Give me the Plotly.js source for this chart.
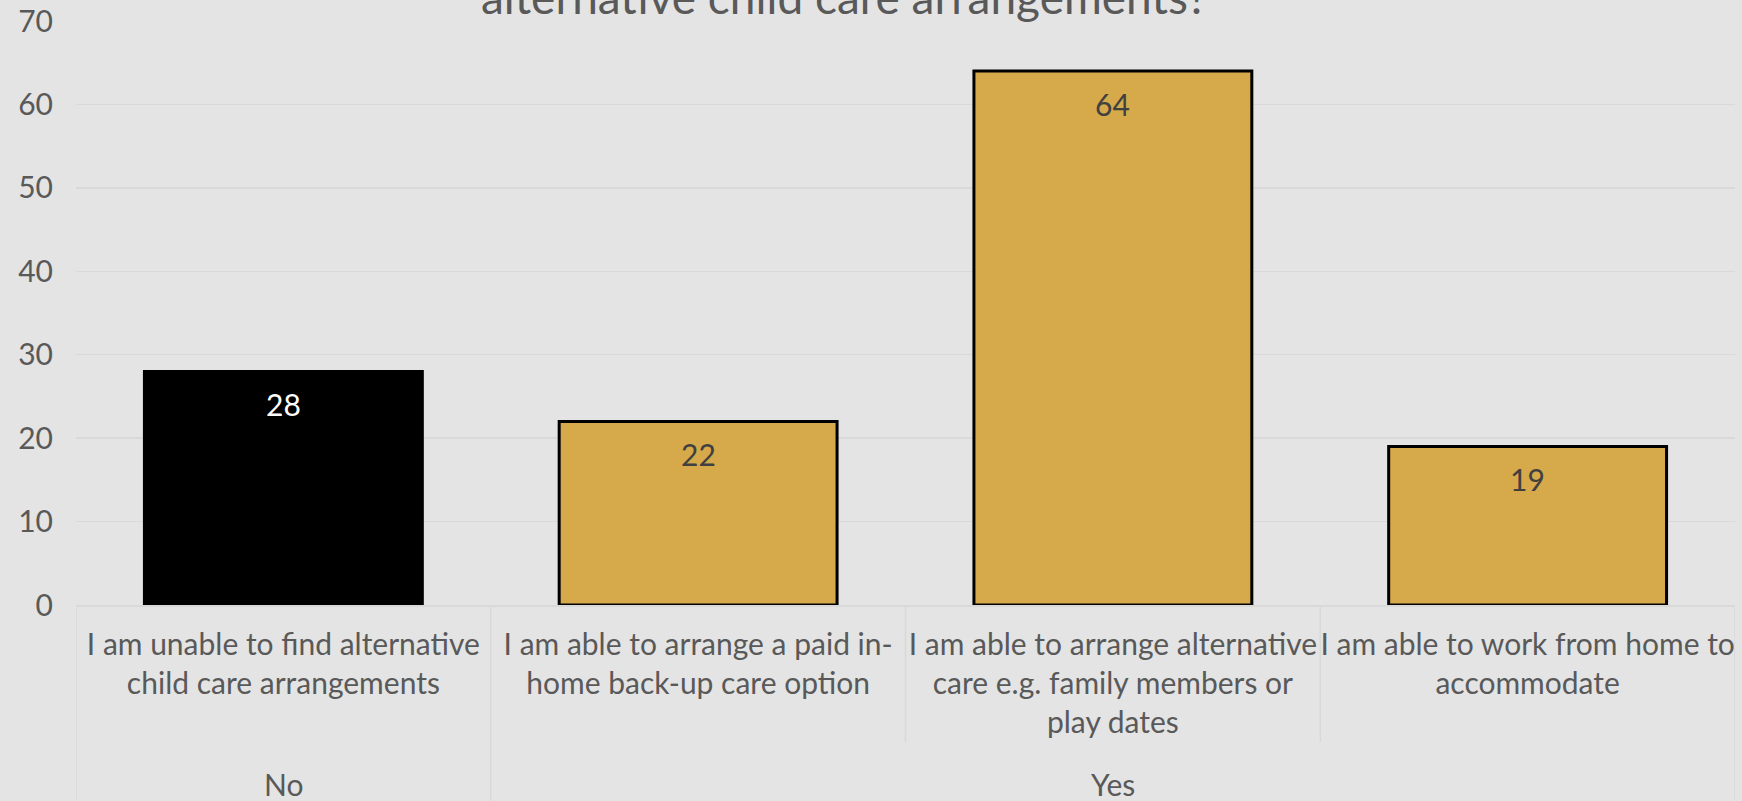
<!DOCTYPE html>
<html><head><meta charset="utf-8">
<script src="https://cdn.plot.ly/plotly-3.0.1.min.js"></script>
<style>html,body{margin:0;padding:0;background:#E4E4E4;overflow:hidden;}</style>
</head><body><div id="chart" style="width:1742px;height:801px;"></div>
<script>
const categories = [
  'I am unable to find alternative<br>child care arrangements',
  'I am able to arrange a paid in-<br>home back-up care option',
  'I am able to arrange alternative<br>care e.g. family members or<br>play dates',
  'I am able to work from home to<br>accommodate'
];
const groups = ['No', 'Yes', 'Yes', 'Yes'];
const values = [28, 22, 64, 19];
const barColors = ['#000000', '#D6A94B', '#D6A94B', '#D6A94B'];
const labelColors = ['#FFFFFF', '#404040', '#404040', '#404040'];
const yTicks = [0, 10, 20, 30, 40, 50, 60, 70];
const titleText = 'alternative child care arrangements?';

const FONT = 'Lato, "Open Sans", sans-serif';
const TXT = '#595959';
const GRID = '#D9D9D9';

// group centres (index space)
const groupNames = [...new Set(groups)];
const groupCenters = groupNames.map(g => {
  const idx = groups.map((v, i) => v === g ? i : null).filter(v => v !== null);
  return idx.reduce((a, b) => a + b, 0) / idx.length;
});
const groupBounds = [-0.5];
groupNames.forEach(g => { groupBounds.push(groups.lastIndexOf(g) + 0.5); });

const trace = {
  type: 'bar',
  x: categories,
  y: values,
  marker: {color: barColors, line: {color: '#000000', width: 3}},
  width: 0.67,
  hoverinfo: 'none'
};

const annotations = values.map((v, i) => ({
  x: categories[i], y: v, xref: 'x', yref: 'y',
  text: String(v), showarrow: false, yanchor: 'top', yshift: -12.5,
  font: {family: FONT, size: 30, color: labelColors[i]}
}));
groupNames.forEach((g, k) => annotations.push({
  x: groupCenters[k], y: -0.3065, xref: 'x', yref: 'paper',
  text: g, showarrow: false, yanchor: 'middle',
  font: {family: FONT, size: 30, color: TXT}
}));
annotations.push({
  x: 0.463, y: 1, xref: 'paper', yref: 'paper', yanchor: 'bottom', yshift: -5,
  text: titleText, showarrow: false,
  font: {family: FONT, size: 46, color: TXT}
});

const shapes = [];
for (let i = 0; i <= categories.length; i++) {
  const b = i - 0.5;
  const full = groupBounds.some(gb => Math.abs(gb - b) < 1e-9);
  shapes.push({type: 'line', xref: 'x', yref: 'paper', x0: b, x1: b, y0: 0,
    y1: full ? -0.4 : -0.2346, line: {color: GRID, width: 1.5}});
}

const layout = {
  width: 1742, height: 801,
  margin: {l: 75.5, r: 7, t: 21, b: 196},
  paper_bgcolor: '#E4E4E4', plot_bgcolor: '#E4E4E4',
  showlegend: false,
  font: {family: FONT, color: TXT},
  xaxis: {
    type: 'category', range: [-0.5, 3.5], showgrid: false, zeroline: false,
    showline: true, linecolor: GRID, linewidth: 1.5,
    tickfont: {family: FONT, size: 30, color: TXT},
    ticks: 'outside', ticklen: 12, tickcolor: 'rgba(0,0,0,0)',
    fixedrange: true
  },
  yaxis: {
    range: [0, 70], tickvals: yTicks, ticktext: yTicks.map(String),
    showgrid: true, gridcolor: GRID, gridwidth: 1.5, zeroline: false,
    tickfont: {family: FONT, size: 30, color: TXT}, ticks: '',
    ticklabelstandoff: 22, fixedrange: true
  },
  annotations: annotations,
  shapes: shapes
};

Plotly.newPlot('chart', [trace], layout, {displayModeBar: false, staticPlot: true});
</script></body></html>
